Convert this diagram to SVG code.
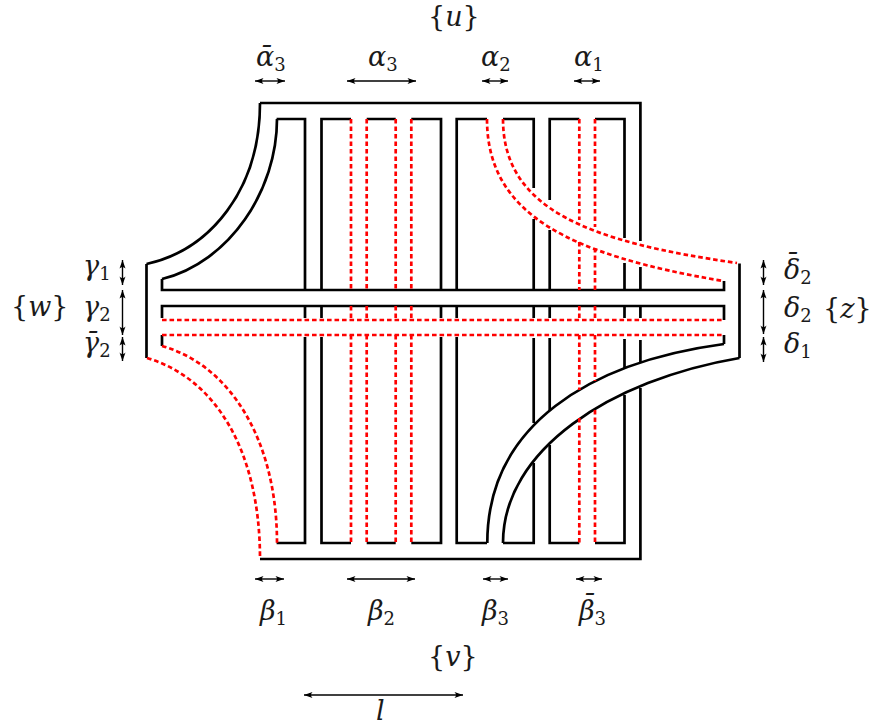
<svg xmlns="http://www.w3.org/2000/svg" width="870" height="728" viewBox="0 0 870 728">
<style>
.k{fill:none;stroke:#000;stroke-width:2.7}
.r{fill:none;stroke:#f00;stroke-width:2.7;stroke-dasharray:4.6 2.9}
.a{fill:none;stroke:#000;stroke-width:1.4;marker-start:url(#h);marker-end:url(#h)}
.m{font-style:italic}
.s{font-style:normal;font-size:18px}
</style>
<defs>
<marker id="h" markerUnits="userSpaceOnUse" viewBox="-9 -4 10 8" refX="0" refY="0" markerWidth="10" markerHeight="8" orient="auto-start-reverse">
<path d="M0,0L-8.5,-3Q-5.5,0 -8.5,3Z" fill="#000"/>
</marker>
</defs>
<g id="black-frame">
<path class="k" d="M260,103H640.4V241M640.4,267V290M640.4,306V318M640.4,340V362M640.4,388V559H260"/>
<path class="k" d="M276.6,119H305V290M305,306V318M305,337V543H276.6"/>
<path class="k" d="M351,119H321.5V290M321.5,306V318M321.5,337V543H351"/>
<path class="k" d="M366.7,119H395.7M366.7,543H395.7"/>
<path class="k" d="M411.3,119H441V290M441,306V318M441,337V543H411.3"/>
<path class="k" d="M487,119H456.7V290M456.7,306V318M456.7,337V543H487"/>
<path class="k" d="M503,119H533.7V188M533.7,219V290M533.7,306V318M533.7,338V423M533.7,463V543H503"/>
<path class="k" d="M579.3,119H549.7V200M549.7,230V290M549.7,306V318M549.7,338V411M549.7,445V543H579.3"/>
<path class="k" d="M595,119H624.5V238M624.5,263V290M624.5,306V318M624.5,339V369M624.5,395V543H595"/>
<path class="k" d="M146.5,358V264M739.5,263.5V358"/>
<path class="k" d="M162,279V290H724V281M162,318V306H724V320M162,335V346M724,335V344"/>
</g>
<g id="black-curves">
<path class="k" d="M260,103C260,190 210,250 146.5,264"/>
<path class="k" d="M277,119C277,190 230,262 162,279"/>
<path class="k" d="M487.3,543C487.3,425 590,362 724,344"/>
<path class="k" d="M503,543C503,450 610,380 739.5,358"/>
</g>
<g id="red-lines">
<path class="r" d="M351,119V290M351,306V320M351,335V543"/>
<path class="r" d="M366.7,119V290M366.7,306V320M366.7,335V543"/>
<path class="r" d="M395.7,119V290M395.7,306V320M395.7,335V543"/>
<path class="r" d="M411.3,119V290M411.3,306V320M411.3,335V543"/>
<path class="r" d="M579.3,119V220M579.3,242V290M579.3,306V320M579.3,335V390M579.3,418V543"/>
<path class="r" d="M595,119V227M595,248V290M595,306V320M595,335V381M595,410V543"/>
<path class="r" d="M162,320H724M162,335H724"/>
<path class="r" d="M147,358C215,378 260,450 260,559"/>
<path class="r" d="M162,346C230,365 277,440 277,543"/>
<path class="r" d="M503,119C503,210 590,242 737,263"/>
<path class="r" d="M487,119C487,215 570,255 723,281"/>
</g>
<g id="dimension-arrows">
<path class="a" d="M255,81H285"/>
<path class="a" d="M347,81H416"/>
<path class="a" d="M482,81H508"/>
<path class="a" d="M574,81H600"/>
<path class="a" d="M255,579H284"/>
<path class="a" d="M347,579H415"/>
<path class="a" d="M483,579H508"/>
<path class="a" d="M576,579H602"/>
<path class="a" d="M304,695H463"/>
<path class="a" d="M122.500,260V285"/>
<path class="a" d="M122.500,290V335"/>
<path class="a" d="M122.500,337V361"/>
<path class="a" d="M763.500,260V285"/>
<path class="a" d="M763.500,290V334"/>
<path class="a" d="M763.500,337V362"/>
</g>
<g id="labels" font-family="DejaVu Serif, serif" font-size="27" fill="#1a1a1a">
<text id="label-u" x="428" y="26">{<tspan class="m">u</tspan>}</text>
<text id="label-abar3" class="m" x="256" y="66">ᾱ<tspan class="s" dy="5">3</tspan></text>
<text id="label-a3" class="m" x="368" y="66">α<tspan class="s" dy="5">3</tspan></text>
<text id="label-a2" class="m" x="481" y="66">α<tspan class="s" dy="5">2</tspan></text>
<text id="label-a1" class="m" x="574" y="66">α<tspan class="s" dy="5">1</tspan></text>
<text id="label-b1" class="m" x="260" y="620">β<tspan class="s" dy="5">1</tspan></text>
<text id="label-b2" class="m" x="368" y="620">β<tspan class="s" dy="5">2</tspan></text>
<text id="label-b3" class="m" x="482" y="620">β<tspan class="s" dy="5">3</tspan></text>
<text id="label-bbar3" class="m"><tspan x="581" y="614">¯</tspan><tspan x="579" y="620">β</tspan><tspan class="s" dy="5">3</tspan></text>
<text id="label-v" x="428" y="666">{<tspan class="m">v</tspan>}</text>
<text id="label-l" class="m" x="376" y="720">l</text>
<text id="label-w" x="11" y="316">{<tspan class="m">w</tspan>}</text>
<text id="label-g1" class="m" x="83" y="275">γ<tspan class="s" dy="5">1</tspan></text>
<text id="label-g2" class="m" x="83" y="316">γ<tspan class="s" dy="5">2</tspan></text>
<text id="label-gbar2" class="m" x="83" y="352">γ̄<tspan class="s" dy="5">2</tspan></text>
<text id="label-dbar2" class="m"><tspan x="784" y="273">¯</tspan><tspan x="784" y="279">δ</tspan><tspan class="s" dy="5">2</tspan></text>
<text id="label-d2" class="m" x="784" y="317">δ<tspan class="s" dy="5">2</tspan></text>
<text id="label-d1" class="m" x="784" y="353">δ<tspan class="s" dy="5">1</tspan></text>
<text id="label-z" x="823" y="318">{<tspan class="m">z</tspan>}</text>
</g>
</svg>
